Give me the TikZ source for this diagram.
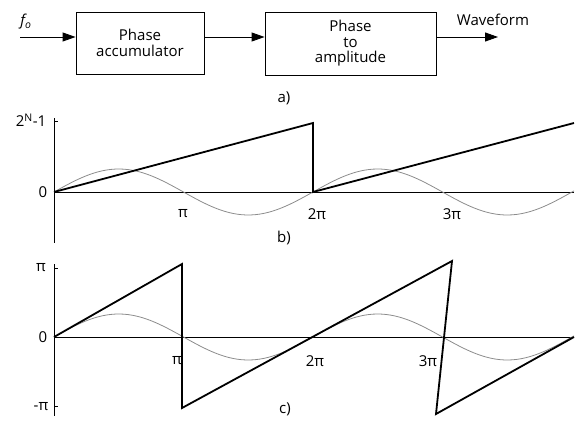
\documentclass[tikz,border=0pt]{standalone}
\usepackage{fontspec}
\setmainfont{Open Sans}
\usetikzlibrary{arrows.meta}

\begin{document}
\begin{tikzpicture}[x=1pt, y=-1pt, font=\fontsize{15}{15.5}\selectfont,
    block/.style={draw, line width=0.9pt, align=center, inner sep=0pt},
    arr/.style={line width=0.9pt, -{Triangle[length=13pt, width=9pt]}},
    axis/.style={line width=1pt},
    saw/.style={line width=1.8pt, line join=miter},
    sine/.style={line width=0.8pt, black!45},
    lbl/.style={inner sep=1pt}]

    \useasboundingbox (0,0) rectangle (575,428);

    % Define parameters (one pi is \u wide, sine amplitude \amp)
    \pgfmathsetmacro{\u}{129.5}   % width of pi
    \pgfmathsetmacro{\amp}{23}    % sine amplitude
    \pgfmathsetmacro{\xo}{54}     % left of the plots

    % --- 1. The block diagram ---
    \node[block, minimum width=128, minimum height=62] (acc) at (140,43) {Phase\\accumulator};
    \node[block, minimum width=171, minimum height=63] (amp) at (350.5,43.5) {Phase\\to\\amplitude};

    \coordinate (in) at (20,37);    % input end
    \coordinate (out) at (498,37);  % output end

    \draw[arr] (in) -- (in -| acc.west);
    \draw[arr] (acc.east |- in) -- (amp.west |- in);
    \draw[arr] (amp.east |- in) -- (out);

    \node[lbl] (fo) at (26,22) {\itshape f\textsubscript{o}};
    \node[lbl] (wave) at (493,20) {Waveform};
    \node[lbl] (capa) at (284,98) {a)};

    % --- 2. Plot b): phase accumulator output ---
    \coordinate (Ob) at (\xo,192);
    \draw[axis] (\xo,118) -- (\xo,243);
    \draw[axis] (Ob) -- (574,192);
    \draw[axis] (\xo,121) -- (\xo+4,121);

    \draw[sine] plot[domain=0:520, samples=120] ({\xo+\x}, {192-\amp*sin(\x/\u*180)});
    \draw[saw] (Ob) -- (\xo+2*\u,123) -- (\xo+2*\u,192) -- (574,123);

    \node[lbl] (topb) at (31,120) {2\textsuperscript{N}-1};
    \node[lbl] (zerob) at (43,192) {0};
    \node[lbl] (pib) at (183,214) {π};
    \node[lbl] (twopib) at (317,214) {2π};
    \node[lbl] (threepib) at (452,214) {3π};
    \node[lbl] (capb) at (284,238) {b)};

    % --- 3. Plot c): phase wrapped to -pi .. pi ---
    \coordinate (Oc) at (\xo,337);
    \draw[axis] (\xo,264) -- (\xo,416);
    \draw[axis] (Oc) -- (574,337);
    \draw[axis] (\xo,268) -- (\xo+4,268);
    \draw[axis] (\xo,406) -- (\xo+4,406);

    \draw[sine] plot[domain=0:520, samples=120] ({\xo+\x}, {337-\amp*sin(\x/\u*180)});
    \draw[saw] (Oc) -- (182,264) -- (182,408) -- (452,261) -- (436,414) -- (574,337);

    \node[lbl] (pic) at (41,268) {π};
    \node[lbl] (zeroc) at (43,337) {0};
    \node[lbl] (mpic) at (41,407) {-π};
    \node[lbl] (pix) at (177,361) {π};
    \node[lbl] (twopic) at (315,361) {2π};
    \node[lbl] (threepic) at (428,361) {3π};
    \node[lbl] (capc) at (285,409) {c)};

\end{tikzpicture}
\end{document}
